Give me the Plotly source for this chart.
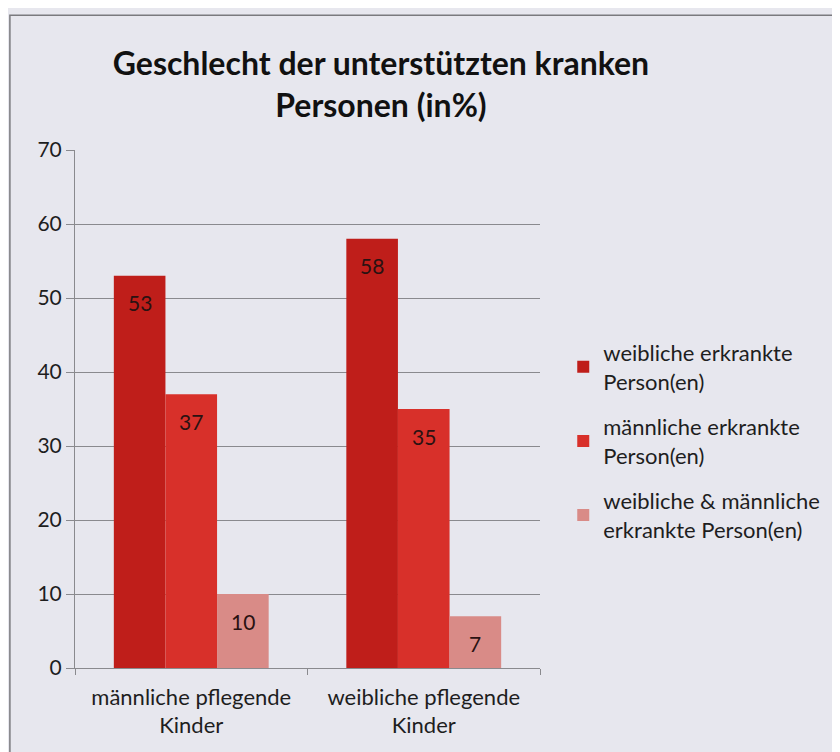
import plotly.graph_objects as go

# Data
categories = ["männliche pflegende<br>Kinder", "weibliche pflegende<br>Kinder"]
series_names = [
    "weibliche erkrankte<br>Person(en)",
    "männliche erkrankte<br>Person(en)",
    "weibliche & männliche<br>erkrankte Person(en)",
]
weiblich = [53, 58]
maennlich = [37, 35]
beide = [10, 7]
colors = ["#BF1E1A", "#D8302A", "#D98B87"]

bar_w = 0.222
offsets = [-1.5 * bar_w, -0.5 * bar_w, 0.5 * bar_w]

fig = go.Figure()
annotations = []
for i, (name, vals, col) in enumerate(zip(series_names, [weiblich, maennlich, beide], colors)):
    fig.add_trace(go.Bar(
        x=categories,
        y=vals,
        name=name,
        legendgroup=name,
        width=bar_w,
        offset=offsets[i],
        marker=dict(color=col, line=dict(width=0)),
    ))
    # value labels sit a little below the top of each bar
    for j, v in enumerate(vals):
        annotations.append(dict(
            x=j + offsets[i] + bar_w / 2, y=v,
            xref="x", yref="y",
            text=str(v), showarrow=False,
            yanchor="middle", yshift=-27,
            font=dict(color="#2a1212", size=21, family="Lato"),
        ))

fig.update_layout(
    width=840,
    height=752,
    barmode="group",
    paper_bgcolor="#E7E7EE",
    plot_bgcolor="#E7E7EE",
    font=dict(family="Lato", size=22, color="#1e1e1e"),
    margin=dict(l=67, r=308, t=142, b=92),
    title=dict(
        text="<b>Geschlecht der unterstützten kranken<br>Personen (in%)</b>",
        x=0.444, xanchor="center",
        y=0.911, yanchor="top",
        font=dict(size=32, family="Lato", color="#111111"),
    ),
    legend=dict(
        x=1.05, xanchor="left",
        y=0.438, yanchor="middle",
        font=dict(size=22),
        tracegroupgap=14,
        bgcolor="rgba(0,0,0,0)",
    ),
    showlegend=True,
    annotations=annotations,
    yaxis=dict(
        range=[0, 70],
        dtick=10,
        showgrid=True,
        gridcolor="#8a8a8e",
        gridwidth=1.2,
        showline=True,
        linecolor="#8a8a8e",
        ticks="outside",
        ticklen=8,
        tickcolor="#8a8a8e",
        zeroline=False,
        tickfont=dict(size=21),
    ),
    xaxis=dict(
        showline=True,
        linecolor="#8a8a8e",
        linewidth=1.2,
        ticks="outside",
        tickson="boundaries",
        ticklen=6,
        tickcolor="#8a8a8e",
        tickfont=dict(size=22),
        ticklabelstandoff=9,
    ),
    shapes=[dict(
        type="rect", xref="paper", yref="paper",
        x0=-0.14, x1=1.9, y0=-0.4, y1=1.26,
        line=dict(color="#7a7a7e", width=1.5),
        fillcolor="rgba(0,0,0,0)",
        layer="below",
    )],
)

fig.write_html("out.html")
